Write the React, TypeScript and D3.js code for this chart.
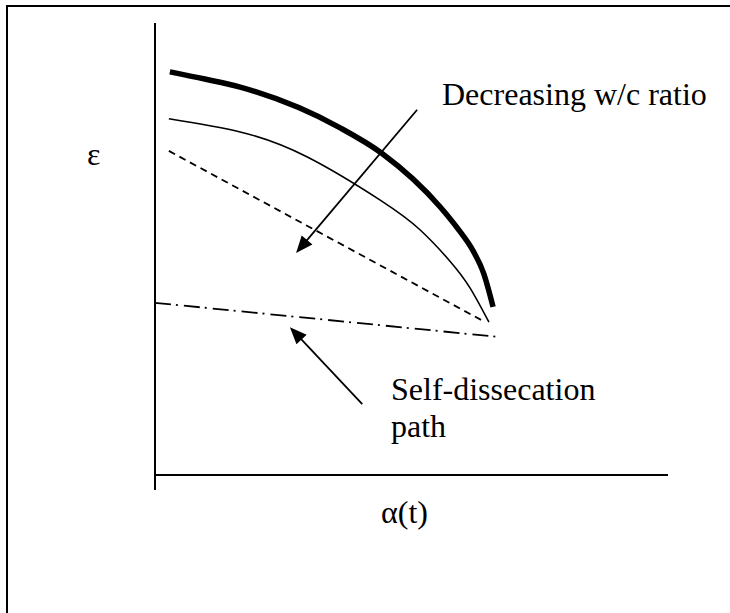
import React from "react";
import * as d3 from "d3";

// Curves in data units (alpha on x: 0..100, epsilon on y: 0..100)
const thickX = [2.9, 9.7, 16.6, 36.1, 44.2, 55.6, 59.1, 62.0, 64.1, 65.9];
const thickY = [89.2, 87.6, 85.8, 76.8, 71.2, 59.3, 54.4, 49.6, 44.5, 37.2];
const thinX = [2.7, 16.6, 29.6, 43.9, 51.7, 57.5, 61.4, 65.1];
const thinY = [78.8, 75.9, 70.4, 60.8, 54.2, 47.3, 41.4, 33.8];
const dashedX = [2.7, 63.9];
const dashedY = [71.7, 34.1];
const selfDesX = [0, 67.3];
const selfDesY = [38.1, 30.5];
const arrowWC = [[51.1, 80.8], [27.5, 49.1]];
const arrowSD = [[40.4, 15.7], [26.3, 32.7]];
const labels = ["ε", "α(t)", "Decreasing w/c ratio", "Self-dissecation", "path"];

const W = 730, H = 613;
const x = d3.scaleLinear().domain([0, 100]).range([155, 668]);
const y = d3.scaleLinear().domain([0, 100]).range([475, 23]);

const zip = (xs: number[], ys: number[]) => xs.map((v, i) => [v, ys[i]] as [number, number]);
const thickLine = d3.line<[number, number]>().x(d => x(d[0])).y(d => y(d[1])).curve(d3.curveMonotoneX);
const thinLine = d3.line<[number, number]>().x(d => x(d[0])).y(d => y(d[1])).curve(d3.curveNatural);
const straight = d3.line<[number, number]>().x(d => x(d[0])).y(d => y(d[1]));

function Arrow({ pts }: { pts: number[][] }) {
  const [x0, y0] = [x(pts[0][0]), y(pts[0][1])];
  const [x1, y1] = [x(pts[1][0]), y(pts[1][1])];
  const ang = Math.atan2(y1 - y0, x1 - x0);
  const len = 17, half = 7;
  const bx = x1 - len * Math.cos(ang), by = y1 - len * Math.sin(ang);
  const px = -Math.sin(ang) * half, py = Math.cos(ang) * half;
  return (
    <g>
      <line x1={x0} y1={y0} x2={bx + 2 * Math.cos(ang)} y2={by + 2 * Math.sin(ang)} stroke="#000" strokeWidth={1.8} />
      <path d={`M${x1},${y1}L${bx + px},${by + py}L${bx - px},${by - py}Z`} fill="#000" />
    </g>
  );
}

export default function App() {
  const font = "Liberation Serif, DejaVu Serif, Tinos, Times New Roman, Times, serif";
  return (
    <div style={{ position: "absolute", left: 0, top: 0, width: W, height: H, overflow: "hidden" }}>
      <svg width={W} height={H} style={{ display: "block", background: "#fff" }}>
        {/* frame: only top and left edges fall inside the picture */}
        <line x1={7} y1={6} x2={W} y2={6} stroke="#000" strokeWidth={2} />
        <line x1={7} y1={5} x2={7} y2={H} stroke="#000" strokeWidth={2} />
        {/* axes */}
        <line x1={x(0)} y1={y(100)} x2={x(0)} y2={490} stroke="#000" strokeWidth={2} />
        <line x1={x(0)} y1={y(0)} x2={x(100)} y2={y(0)} stroke="#000" strokeWidth={2} />
        {/* curves */}
        <path d={thickLine(zip(thickX, thickY)) || ""} fill="none" stroke="#000" strokeWidth={5.5} />
        <path d={thinLine(zip(thinX, thinY)) || ""} fill="none" stroke="#000" strokeWidth={1.6} />
        <path d={straight(zip(dashedX, dashedY)) || ""} fill="none" stroke="#000" strokeWidth={1.8} strokeDasharray="7 5" />
        <path d={straight(zip(selfDesX, selfDesY)) || ""} fill="none" stroke="#000" strokeWidth={1.8} strokeDasharray="16 5 2 6" />
        <Arrow pts={arrowWC} />
        <Arrow pts={arrowSD} />
        {/* text */}
        <g fontFamily={font} fontSize={32} fill="#000">
          <text x={87} y={165}>{labels[0]}</text>
          <text x={381} y={523}>{labels[1]}</text>
          <text x={442} y={105}>{labels[2]}</text>
          <text x={391} y={400}>{labels[3]}</text>
          <text x={391} y={437}>{labels[4]}</text>
        </g>
      </svg>
    </div>
  );
}
